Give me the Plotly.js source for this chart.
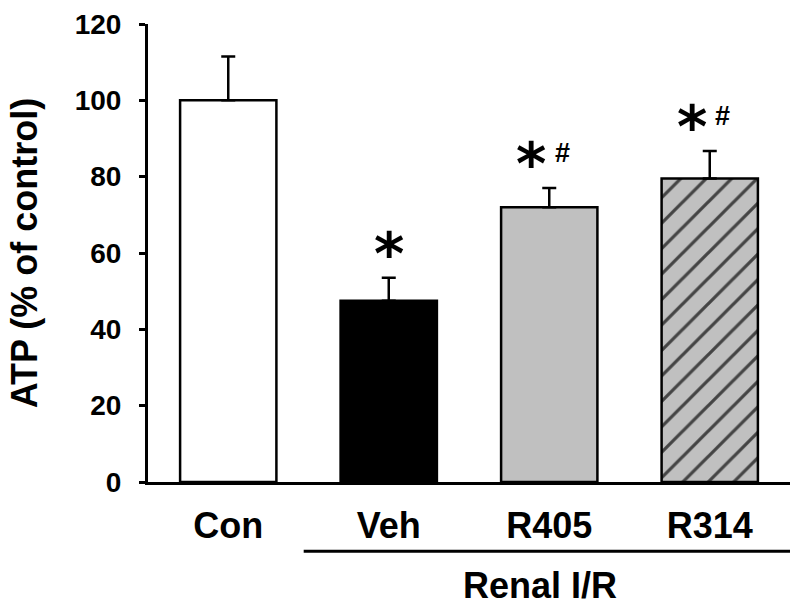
<!DOCTYPE html>
<html>
<head>
<meta charset="utf-8">
<script src="https://cdn.plot.ly/plotly-3.0.1.min.js"></script>
<style>
  html, body { margin: 0; padding: 0; background: #fff; }
  #chart { width: 800px; height: 608px; }
</style>
</head>
<body>
<div id="chart"></div>
<script>
// groups and values
var groups = ['Con', 'Veh', 'R405', 'R314'];
var atp = [100, 47.5, 72, 79.5];
var sem = [11.5, 6, 5, 7.2];
var marks = ['', '*', '*#', '*#'];
var groupLabel = 'Renal I/R';
var groupMembers = [1, 2, 3];

var fills = ['#ffffff', '#000000', '#c0c0c0', '#c0c0c0'];
var hatch = ['', '', '', '/'];

var font = 'Liberation Sans, Arial, sans-serif';

var trace = {
  type: 'bar',
  x: groups.map(function(g, i) { return i; }),
  y: atp,
  width: 0.6,
  marker: {
    color: fills,
    line: { color: '#000', width: 2.5 },
    pattern: {
      shape: hatch, fillmode: 'overlay',
      fgcolor: '#000', fgopacity: 1,
      size: 18, solidity: 0.18
    }
  },
  error_y: {
    type: 'data',
    symmetric: false,
    array: sem,
    arrayminus: sem.map(function() { return 0; }),
    color: '#000',
    thickness: 2.5,
    width: 7
  },
  hoverinfo: 'x+y'
};

// significance marks above the error bars
var annotations = [];
marks.forEach(function(m, i) {
  if (!m) return;
  var top = atp[i] + sem[i];
  var hasHash = m.indexOf('#') >= 0;
  annotations.push({
    x: i, y: top, xref: 'x', yref: 'y',
    text: '*', showarrow: false,
    xanchor: 'center', yanchor: 'middle',
    xshift: hasHash ? -18 : 0, yshift: 24,
    font: { family: 'DejaVu Sans', size: 58, weight: 'bold', color: '#000' }
  });
  if (hasHash) {
    annotations.push({
      x: i, y: top, xref: 'x', yref: 'y',
      text: '#', showarrow: false,
      xanchor: 'center', yanchor: 'middle',
      xshift: 13, yshift: 35,
      font: { family: font, size: 27, weight: 'bold', color: '#000' }
    });
  }
});

var first = groupMembers[0], last = groupMembers[groupMembers.length - 1];
annotations.push({
  x: (first + last) / 2 - 0.06, y: -0.225, xref: 'x', yref: 'paper',
  text: groupLabel, showarrow: false,
  xanchor: 'center', yanchor: 'middle',
  font: { family: font, size: 36, weight: 'bold', color: '#000' }
});

var layout = {
  width: 800,
  height: 608,
  margin: { l: 148, r: 10, t: 24, b: 126 },
  paper_bgcolor: '#fff',
  plot_bgcolor: '#fff',
  showlegend: false,
  font: { family: font, color: '#000' },
  xaxis: {
    range: [-0.5, 3.5],
    tickmode: 'array',
    tickvals: groups.map(function(g, i) { return i; }),
    ticktext: groups,
    ticks: '',
    showline: true,
    linecolor: '#000',
    linewidth: 3,
    showgrid: false,
    zeroline: false,
    ticklabelstandoff: 10,
    tickfont: { family: font, size: 36, weight: 'bold', color: '#000' }
  },
  yaxis: {
    range: [0, 120],
    dtick: 20,
    ticks: 'outside',
    ticklen: 6,
    tickwidth: 2.5,
    tickcolor: '#000',
    showline: true,
    linecolor: '#000',
    linewidth: 3,
    showgrid: false,
    zeroline: false,
    ticklabelstandoff: 12,
    tickfont: { family: font, size: 28, weight: 'bold', color: '#000' },
    title: {
      text: 'ATP (% of control)',
      standoff: 27,
      font: { family: font, size: 36, weight: 'bold', color: '#000' }
    }
  },
  shapes: [{
    type: 'line', xref: 'x', yref: 'paper',
    x0: first - 0.53, x1: last + 0.51, y0: -0.151, y1: -0.151,
    line: { color: '#000', width: 3 }
  }],
  annotations: annotations
};

Plotly.newPlot('chart', [trace], layout, { displayModeBar: false, responsive: false });
</script>
</body>
</html>
